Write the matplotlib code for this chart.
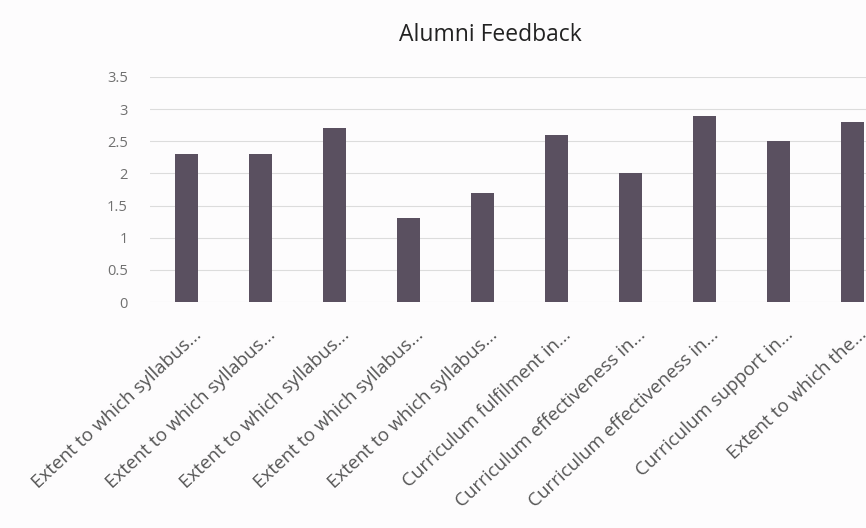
import matplotlib
matplotlib.use("Agg")
import matplotlib.pyplot as plt
import matplotlib.transforms as mtransforms
import numpy as np

categories = [
    "Extent to which syllabus...",
    "Extent to which syllabus...",
    "Extent to which syllabus...",
    "Extent to which syllabus...",
    "Extent to which syllabus...",
    "Curriculum fulfilment in...",
    "Curriculum effectiveness in...",
    "Curriculum effectiveness in...",
    "Curriculum support in...",
    "Extent to which the...",
]
values = [2.3, 2.3, 2.7, 1.3, 1.7, 2.6, 2.0, 2.9, 2.5, 2.8]
yticks = [0, 0.5, 1, 1.5, 2, 2.5, 3, 3.5]
ytick_labels = ["0", "0.5", "1", "1.5", "2", "2.5", "3", "3.5"]

plt.rcParams['font.family'] = ['Open Sans', 'DejaVu Sans']

fig = plt.figure(figsize=(8.66, 5.28), dpi=100)
fig.patch.set_facecolor("#fdfcfd")
ax = fig.add_axes([150/866, 1-302/528, (889-150)/866, (302-77)/528])
ax.set_facecolor("#fdfcfd")

x = np.arange(len(values))
ax.bar(x, values, width=0.31, color="#5a5060", zorder=3)
ax.set_xlim(-0.5, len(values)-0.5)
ax.set_ylim(0, 3.5)
ax.set_yticks(yticks)
ax.set_yticklabels(ytick_labels, color="#707070", fontsize=10.5)
ax.set_xticks(x)
ax.set_xticklabels(categories, rotation=43, ha="right", rotation_mode="anchor",
                   fontsize=13.5, color="#555555")
ax.tick_params(axis='both', length=0)
ax.tick_params(axis='y', pad=16)
ax.tick_params(axis='x', pad=17)
offset = mtransforms.ScaledTranslation(6/100, 0, fig.dpi_scale_trans)
for lbl in ax.get_xticklabels():
    lbl.set_transform(lbl.get_transform() + offset)
ax.grid(axis='y', color="#dcdcdc", linewidth=0.8, zorder=0)
for s in ax.spines.values():
    s.set_visible(False)

fig.text(490/866, 1-35/528, "Alumni Feedback", ha="center", va="center",
         fontsize=16.5, color="#222222")

fig.savefig("out.png", dpi=100, facecolor=fig.get_facecolor())
